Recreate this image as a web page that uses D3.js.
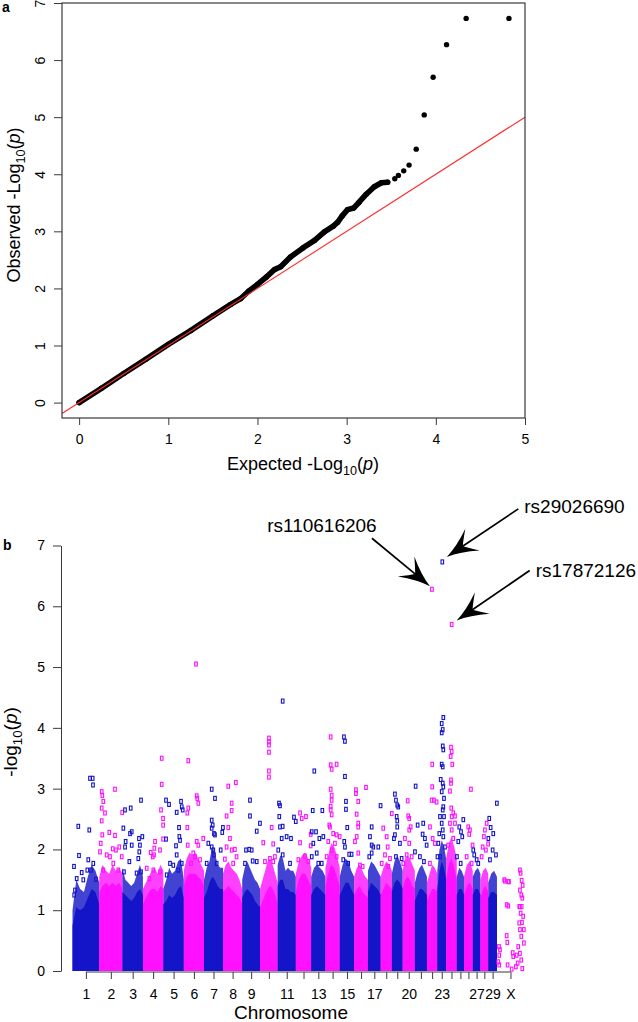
<!DOCTYPE html>
<html><head><meta charset="utf-8">
<script src="https://cdn.jsdelivr.net/npm/d3@7"></script>
<style>body{margin:0;background:#fff}svg{display:block}</style>
</head><body><svg id="c" width="638" height="1022"></svg>
<script>
// ---------- Panel a: QQ plot data ----------
const qqExpected = [0,0.25,0.5,0.75,1.0,1.25,1.5,1.7,1.81,1.9,2.0,2.1,2.19,2.26,2.37,2.51,2.64,2.75,2.85,2.90,2.95,3.01,3.08,3.14,3.22,3.31,3.39,3.46,3.54,3.58,3.64,3.70,3.78,3.87,3.97,4.12,4.34,4.82];
const qqObserved = [0,0.25,0.51,0.76,1.02,1.26,1.52,1.72,1.82,1.95,2.07,2.2,2.33,2.38,2.55,2.71,2.84,2.99,3.09,3.16,3.27,3.38,3.41,3.51,3.65,3.78,3.85,3.86,3.92,3.98,4.06,4.16,4.44,5.04,5.70,6.27,6.73,6.73];
const qqTicksX = [0,1,2,3,4,5];
const qqTicksY = [0,1,2,3,4,5,6,7];

// ---------- Panel b: Manhattan plot data ----------
const chromosomes = ["1","2","3","4","5","6","7","8","9","10","11","12","13","14","15","16","17","18","19","20","21","22","23","24","25","26","27","28","29","X"];
const chrLengthMb = [158.3,137.1,121.4,120.7,121.2,119.5,112.6,113.4,105.7,104.3,107.3,91.2,84.2,84.6,85.3,81.7,75.2,66.0,64.1,72.0,71.6,61.4,52.5,62.7,42.9,51.7,45.4,46.3,51.5,160];
const chrTickLabels = ["1","2","3","4","5","6","7","8","9","","11","","13","","15","","17","","","20","","","23","","","","27","","29","X"];
const manhattanTicksY = [0,1,2,3,4,5,6,7];
// level up to which the SNPs form a solid mass along each chromosome (-log10 p)
const chrBody = [
 [0.75,1.05,1.0,1.05,1.2,1.35,1.3,1.1],[1.3,1.4,1.45,1.4,1.45,1.4,1.45,1.35],[1.3,1.25,1.2,1.15,1.2,1.3,1.35,1.25],
 [1.1,1.2,1.3,1.35,1.35,1.3,1.4,1.35],[1.1,1.15,1.25,1.2,1.25,1.35,1.4,1.2],[1.4,1.55,1.6,1.6,1.6,1.55,1.5,1.4],
 [1.2,1.3,1.45,1.55,1.5,1.4,1.35,1.35],[1.3,1.35,1.4,1.35,1.3,1.25,1.2,1.1],[1.2,1.3,1.35,1.3,1.25,1.15,1.1,1.05],
 [1.05,1.15,1.25,1.35,1.4,1.35,1.25,1.1],[1.4,1.5,1.5,1.35,1.35,1.3,1.3,1.25],[1.3,1.5,1.6,1.6,1.5,1.4],
 [1.25,1.35,1.4,1.35,1.3,1.25],[1.4,1.6,1.75,1.7,1.55,1.4],[1.25,1.35,1.45,1.45,1.35,1.25],
 [1.25,1.35,1.4,1.3,1.25,1.2],[1.3,1.45,1.4,1.35,1.25],[1.25,1.35,1.45,1.4,1.35],
 [1.3,1.45,1.5,1.45,1.35],[1.35,1.5,1.55,1.5,1.4,1.35],[1.15,1.25,1.35,1.35,1.3,1.25],
 [1.15,1.25,1.35,1.35,1.3],[1.35,1.65,1.8,1.7,1.5],[1.5,1.75,1.85,1.7,1.5],
 [1.25,1.35,1.35,1.25],[1.25,1.4,1.45,1.35],[1.25,1.35,1.35,1.25],[1.2,1.35,1.4,1.3],[1.2,1.3,1.3,1.25],[]
];
// upper edge of the dense (not solid) cloud of SNPs above the body
const chrFringe = [
 [1.0,1.5,1.35,1.3,1.55,1.75,1.65,1.45],[1.55,1.75,1.65,1.6,1.75,1.65,1.7,1.6],[1.7,1.5,1.45,1.4,1.45,1.6,1.75,1.55],
 [1.35,1.45,1.55,1.65,1.7,1.6,1.75,1.65],[1.35,1.5,1.7,1.6,1.65,1.8,1.85,1.5],[1.65,1.85,1.95,1.9,1.95,1.85,1.75,1.65],
 [1.5,1.7,1.8,2.05,1.95,1.75,1.7,1.7],[1.6,1.75,1.8,1.7,1.65,1.6,1.5,1.35],[1.5,1.7,1.8,1.7,1.6,1.5,1.45,1.35],
 [1.35,1.5,1.65,1.8,1.85,1.75,1.6,1.45],[1.75,1.9,1.85,1.65,1.7,1.65,1.65,1.55],[1.6,1.8,1.9,1.95,1.85,1.7],
 [1.55,1.7,1.75,1.7,1.65,1.55],[1.7,1.9,2.1,2.05,1.9,1.7],[1.55,1.75,1.85,1.8,1.65,1.55],
 [1.55,1.7,1.75,1.65,1.55,1.5],[1.65,1.8,1.75,1.65,1.55],[1.55,1.7,1.8,1.75,1.65],
 [1.6,1.8,1.9,1.8,1.65],[1.65,1.85,1.9,1.85,1.75,1.65],[1.45,1.6,1.7,1.75,1.65,1.55],
 [1.45,1.6,1.75,1.7,1.6],[1.65,2.0,2.15,2.05,1.85],[1.85,2.1,2.2,2.05,1.85],
 [1.55,1.7,1.65,1.55],[1.55,1.75,1.8,1.65],[1.55,1.65,1.7,1.6],[1.5,1.65,1.7,1.6],[1.45,1.6,1.65,1.55],[]
];
// individual SNPs above the body: [chromosome, position (Mb), -log10 p]
const snpPoints = [
 ["1",8.9,1.72],["1",34.3,2.38],["1",38.5,1.9],["1",14.8,1.33],["1",10,1.25],["1",99.4,2.32],["1",103.6,3.17],["1",119.5,3.17],["1",121.3,3.06],["1",93.5,1.83],["1",123,1.77],["1",87.6,1.66],["1",54.4,1.62],["1",139,1.51],["1",109.5,1.66],["1",64,1.5],["1",24.9,1.52],
 ["2",14.5,2.95],["2",18,2.89],["2",24,2.79],["2",14.5,2.68],["2",34,2.6],["2",14.5,2.47],["2",18,2.24],["2",8.6,2.1],["2",4.4,1.96],["2",93.2,2.99],["2",59.5,2.28],["2",93.2,2.23],["2",79.6,2.01],["2",99,1.99],["2",118.6,2.04],["2",136,2.61],["2",44,1.91],["2",24,1.66],["2",63.6,1.88],["2",133,1.88],["2",83,1.77],["2",113,1.66],
 ["3",15.4,2.65],["3",49,2.68],["3",110,2.81],["3",5.5,2.35],["3",55,2.29],["3",45,2.26],["3",19,2.13],["3",98,2.18],["3",117.8,2.21],["3",55,2.07],["3",103.6,2.07],["3",15.4,2.04],["3",100,1.96],["3",94,1.85],["3",41,1.8],["3",110,1.63],["3",9,1.63],["3",84,1.61],
 ["4",111,3.5],["4",111,3.07],["4",107,2.65],["4",119,2.51],["4",119.5,2.4],["4",119.5,2.17],["4",71.6,2.13],["4",46,1.95],["4",65.7,1.91],["4",58,1.88],["4",67.5,2.02],["4",101,1.99],["4",22.5,1.69],["4",101,1.63],["4",61.5,1.66],["4",38,1.52],
 ["5",16,2.81],["5",33.7,2.74],["5",79,2.61],["5",104.7,2.79],["5",108.9,2.7],["5",114.8,2.65],["5",92.9,2.36],["5",94.7,2.21],["5",98.8,2.15],["5",16,2.17],["5",75,2.06],["5",79,1.91],["5",59,1.74],["5",39.6,1.77],["5",108.9,1.77],["5",20,1.58],["5",88.8,1.66],
 ["6",26.6,3.46],["6",20.7,2.6],["6",26.6,2.68],["6",76.3,2.88],["6",80,2.84],["6",86,2.76],["6",20.7,2.36],["6",23,2.07],["6",76.3,2.13],["6",86,2.07],["6",115.4,2.18],["6",56,1.94],["6",42.6,1.77],["6",95.9,1.83],["6",66.3,1.88],["6",72.2,5.05],
 ["7",45.6,2.99],["7",65,2.84],["7",45.6,2.48],["7",51.5,2.4],["7",45.6,2.35],["7",59,2.26],["7",65,2.24],["7",112,2.36],["7",108,2.28],["7",25.6,2.1],["7",45.6,2.04],["7",55,1.99],["7",59,1.91],["7",98.8,1.99],["7",16,1.77],["7",75,1.77],
 ["8",31,3.04],["8",76,3.1],["8",51,2.76],["8",21,2.55],["8",51,2.64],["8",31,2.36],["8",41,2.18],["8",21,2.04],["8",70,2.0],["8",51,1.99],["8",11,1.84],["8",60,1.77],["8",80,1.88],
 ["9",46,2.81],["9",46,2.55],["9",86,2.3],["9",105,2.43],["9",22.5,1.99],["9",42,2.0],["9",56,1.99],["9",62,1.81],["9",16.6,1.77],["9",86,1.8],
 ["10",52.7,3.83],["10",52.7,3.77],["10",52.7,3.72],["10",52.7,3.6],["10",52.7,3.29],["10",52.7,3.19],["10",68.6,2.36],["10",19,2.11],["10",78,2.09],["10",29,1.8],["10",58.6,1.85],["10",88,1.88],["10",78,1.8],
 ["11",29.6,4.44],["11",7.7,2.76],["11",13.6,2.72],["11",9.5,2.54],["11",13.6,2.37],["11",29.6,2.38],["11",23.7,2.18],["11",53,2.21],["11",78.7,2.18],["11",96.4,2.53],["11",107,2.46],["11",3.5,1.99],["11",29.6,1.91],["11",73,1.77],
 ["12",60,2.54],["12",35,2.51],["12",25,2.11],["12",54.4,1.89],["12",88,2.25],["12",88,2.06],["12",15,1.83],["12",74,1.8],["12",25,2.6],
 ["13",18.3,3.29],["13",8.9,2.64],["13",65.7,2.64],["13",3,2.29],["13",28.4,2.29],["13",48,2.18],["13",71.6,2.21],["13",12.4,2.1],["13",3,1.88],["13",32.5,1.94],["13",42,1.77],["13",62,1.77],
 ["14",30.8,3.85],["14",30.8,3.39],["14",36.7,3.32],["14",66,3.4],["14",30.8,2.99],["14",36.7,2.89],["14",36.7,2.81],["14",30.8,2.71],["14",30.8,2.65],["14",36.7,2.57],["14",22.7,2.4],["14",26.6,2.37],["14",46,2.26],["14",66,2.24],["14",84,2.21],["14",16.6,2.13],["14",56,2.1],["14",36.7,1.99],["14",7,1.88],["14",66,1.88],
 ["15",24.9,3.85],["15",30.8,3.78],["15",30.8,3.2],["15",36.7,2.79],["15",36.7,2.66],["15",44.4,2.36],["15",26.6,2.13],["15",30.8,2.04],["15",56,1.92],["15",70,1.92],["15",20.7,1.83],["15",50,1.77],
 ["16",10.6,2.98],["16",10.6,2.92],["16",24.3,2.79],["16",69.8,3.02],["16",14.8,2.58],["16",24.3,2.43],["16",24.3,2.37],["16",14.8,2.21],["16",4.7,2.13],["16",24.3,1.94],["16",34.3,1.74],["16",50,1.72],
 ["17",74.5,2.72],["17",21.9,2.37],["17",11.8,2.21],["17",21.9,2.07],["17",31.4,2.04],["17",21.9,1.94],["17",7.7,1.88],["17",61,2.04],
 ["18",15.4,2.35],["18",41.4,2.04],["18",25.4,1.91],["18",55,1.85],["18",5.9,1.77],["18",45,1.72],["18",35.5,2.21],["18",65.5,2.59],
 ["19",18.3,2.91],["19",24.3,2.81],["19",32,2.73],["19",37.9,2.7],["19",28.4,2.54],["19",32,2.47],["19",32,2.37],["19",18.3,2.24],["19",12.4,2.18],["19",47.9,2.1],["19",24.3,1.88],["19",58,1.85],
 ["20",29.6,2.8],["20",33,2.55],["20",39,2.51],["20",47.3,2.37],["20",39,2.32],["20",13.6,2.18],["20",39,2.1],["20",23.7,1.91],["20",53,1.88],["20",3.5,1.77],
 ["21",4.7,3.04],["21",16.6,2.4],["21",49.7,2.43],["21",46,2.25],["21",59.8,2.18],["21",69.8,2.07],["21",0.6,1.96],["21",30,1.88],["21",53.8,1.8],
 ["22",31.4,3.4],["22",31.4,3.03],["22",41.4,2.81],["22",57,2.78],["22",27.8,2.81],["22",17.8,2.37],["22",33.7,2.18],["22",47.3,2.1],["22",17.8,1.77],["22",29.6,6.28],
 ["23",35.5,4.17],["23",26,4.07],["23",32,3.97],["23",26,3.92],["23",32,3.7],["23",35.5,3.64],["23",26,3.4],["23",32,3.36],["23",20,3.15],["23",32,3.09],["23",35.5,3.03],["23",26,2.95],["23",39.6,2.84],["23",35.5,2.7],["23",32,2.65],["23",16,2.54],["23",39.6,2.54],["23",26,2.43],["23",32,2.32],["23",11.8,2.26],["23",35.5,2.21],["23",5.9,2.1],["23",45.6,2.04],["23",1,1.88],["23",16,1.88],["23",29.6,6.73],
 ["24",28.4,3.68],["24",32.5,3.61],["24",26.6,3.53],["24",36,3.4],["24",28.4,3.14],["24",28.4,3.09],["24",22.5,2.96],["24",30,2.68],["24",42,2.6],["24",32.5,2.54],["24",52,2.55],["24",22.5,2.43],["24",52,2.43],["24",32.5,2.32],["24",42,2.18],["24",12.4,2.07],["24",32.5,5.70],
 ["25",38.5,2.49],["25",14.8,2.37],["25",24.9,2.29],["25",32.5,2.21],["25",8.9,2.13],["25",1,1.88],["25",23,1.77],
 ["26",40.8,2.99],["26",24.9,2.37],["26",34.9,2.32],["26",30.8,2.25],["26",50.5,2.07],["26",15.4,1.88],["26",45,1.77],
 ["27",3,1.99],["27",8.9,1.91],["27",23,1.83],["27",32.5,1.77],
 ["28",36.7,2.43],["28",26.6,2.32],["28",20.7,2.21],["28",13,2.04],["28",32.5,1.99],["28",45.5,2.09],["28",7,1.88],
 ["29",51,2.76],["29",5.9,2.51],["29",14,2.36],["29",29.6,2.26],["29",0.5,2.18],["29",26,1.99],["29",45.6,1.91],["29",10,1.83],
 ["X",13.6,0.26],["X",13.6,0.10],["X",47.3,1.48],["X",71,1.47],["X",57.4,1.09],["X",61,0.47],["X",96.4,0.24],["X",112,0.07],["X",132,1.06],["X",136,1.06],["X",146,1.06],["X",136,1.66],["X",140,1.61],["X",136,1.33],["X",144,1.25],["X",146,1.49],["X",152,1.41],["X",132,0.79],["X",136,0.68],["X",144,0.57],["X",126,0.40],["X",136,0.29],["X",144,0.18],["X",150,0.04],["X",155,0.90],["X",159,0.68],["X",159.5,0.46],["X",116.5,0.26],["X",122.5,0.13],["X",87,0.03],["X",93,0.3],["X",57.4,0.58],["X",43,1.5],["X",67,1.47],["X",67,1.07],["X",12,0.4],["X",17.8,0.35],["X",7.7,0.15],["X",63,0.1],["X",150,1.2],["X",140,0.95],["X",148,0.8]
];
// annotated SNPs
const hitLabels = ["rs110616206","rs29026690","rs17872126"];
const hitChr = ["22","23","24"];
const hitPos = [29.6,29.6,32.5];
const hitLogP = [6.28,6.73,5.70];

// ---------- drawing ----------
const FONT = '"Liberation Sans", Arial, Helvetica, sans-serif';
const AX = "#3a3a3a";
const BLUE = "#1414c8", MAG = "#ff10ff";
const svg = d3.select("#c").attr("font-family", FONT);
const intFmt = d3.format("d");

function styleAxis(g, size){
  g.selectAll(".tick line").attr("stroke", AX).attr("stroke-width",1);
  g.selectAll(".tick text").attr("fill","#000").attr("font-size", size).attr("font-family", FONT);
  g.attr("font-family", FONT);
}
function logLabel(t, prefix, fs){
  t.attr("font-size", fs);
  t.append("tspan").text(prefix);
  t.append("tspan").attr("font-size", fs*0.7).attr("dy", fs*0.28).text("10");
  t.append("tspan").attr("dy", -fs*0.28).text("(");
  t.append("tspan").attr("font-style","italic").text("p");
  t.append("tspan").text(")");
}

// Panel a
const qx = d3.scaleLinear().domain([-0.192, 5.0]).range([62, 525]);
const qy = d3.scaleLinear().domain([-0.27, 7.0]).range([418, 3]);
const ga = svg.append("g");
const idx = d3.range(qqExpected.length);
ga.append("path").datum(idx.filter(i => qqExpected[i] <= 3.46))
  .attr("d", d3.line().x(i => qx(qqExpected[i])).y(i => qy(qqObserved[i])))
  .attr("fill","none").attr("stroke","#000").attr("stroke-width",5.6)
  .attr("stroke-linecap","round").attr("stroke-linejoin","round");
ga.selectAll("circle.qq").data(idx).join("circle").attr("class","qq")
  .attr("cx", i => qx(qqExpected[i])).attr("cy", i => qy(qqObserved[i]))
  .attr("r", 2.7).attr("fill","#000");
const xd = qx.domain();
ga.append("line").attr("x1", qx(xd[0])).attr("y1", qy(xd[0])).attr("x2", qx(xd[1])).attr("y2", qy(xd[1]))
  .attr("stroke","#ff2a2a").attr("stroke-width",1.1);
ga.append("rect").attr("x",62).attr("y",3).attr("width",463).attr("height",415)
  .attr("fill","none").attr("stroke",AX).attr("stroke-width",1.2);
ga.append("g").attr("transform","translate(0,418)")
  .call(d3.axisBottom(qx).tickValues(qqTicksX).tickFormat(intFmt).tickSize(7).tickPadding(9).tickSizeOuter(0))
  .call(g => { g.select(".domain").remove(); styleAxis(g, 14); });
ga.append("g").attr("transform","translate(62,0)")
  .call(d3.axisLeft(qy).tickValues(qqTicksY).tickFormat(intFmt).tickSize(8).tickSizeOuter(0))
  .call(g => { g.select(".domain").remove(); styleAxis(g, 14);
    g.selectAll(".tick text").attr("x", null).attr("dy", null)
     .attr("text-anchor","middle").attr("transform","translate(-17,0) rotate(-90)"); });
logLabel(ga.append("text").attr("x",303).attr("y",470).attr("text-anchor","middle"), "Expected -Log", 18);
logLabel(ga.append("text").attr("transform","translate(20,205) rotate(-90)").attr("text-anchor","middle"), "Observed -Log", 18);
ga.append("text").attr("x",2).attr("y",12).attr("font-size",14).attr("font-weight","bold").text("a");

// Panel b
const totalMb = d3.sum(chrLengthMb);
const chrStart = chrLengthMb.map((d,i) => d3.sum(chrLengthMb.slice(0,i)));
const chrCenter = chrLengthMb.map((d,i) => chrStart[i] + d/2);
const mx = d3.scaleLinear().domain([0, totalMb]).range([72.5, 524]);
const my = d3.scaleLinear().domain([0, 7]).range([971, 545.5]);
const colorOf = i => (i % 2 === 0 ? BLUE : MAG);
const gb = svg.append("g");
const area = d3.area().x(d => mx(d[0])).y0(my(0)).y1(d => my(d[1]));
function profile(h, i){ return h.map((v, j) => [chrStart[i] + j/(h.length-1)*chrLengthMb[i], v]); }
chrFringe.forEach((h, i) => {
  if (!h.length) return;
  gb.append("path").datum(profile(h, i)).attr("d", area).attr("fill", colorOf(i)).attr("fill-opacity", 0.8);
});
chrBody.forEach((h, i) => {
  if (!h.length) return;
  gb.append("path").datum(profile(h, i)).attr("d", area).attr("fill", colorOf(i));
});
gb.selectAll("rect.snp").data(snpPoints).join("rect").attr("class","snp")
  .each(function(d){
    const i = chromosomes.indexOf(String(d[0]));
    d3.select(this).attr("x", mx(chrStart[i] + d[1]) - 1.3).attr("y", my(d[2]) - 2)
      .attr("stroke", colorOf(i));
  })
  .attr("width",2.6).attr("height",4).attr("fill","none").attr("stroke-width",1.1);

// axes
gb.append("g").attr("transform","translate(61,0)")
  .call(d3.axisLeft(my).tickValues(manhattanTicksY).tickFormat(intFmt).tickSize(8).tickPadding(8).tickSizeOuter(0))
  .call(g => { g.select(".domain").attr("stroke",AX); styleAxis(g, 14); });
gb.append("g").attr("transform","translate(0,972)")
  .call(d3.axisBottom(mx).tickValues(chrCenter).tickFormat((d,i) => chrTickLabels[i]).tickSize(7).tickPadding(10))
  .call(g => { g.select(".domain").remove(); styleAxis(g, 14); });
gb.append("line").attr("x1", mx(chrCenter[0])).attr("x2", mx(chrCenter[chrCenter.length-1]))
  .attr("y1",972).attr("y2",972).attr("stroke",AX);
gb.append("text").attr("x",291).attr("y",1019).attr("text-anchor","middle").attr("font-size",19).text("Chromosome");
logLabel(gb.append("text").attr("transform","translate(17,742) rotate(-90)").attr("text-anchor","middle"), "-log", 19);
gb.append("text").attr("x",3).attr("y",550).attr("font-size",14).attr("font-weight","bold").text("b");

// annotations (label/arrow offsets relative to the SNP, in px)
const annLayout = [
  {tx:-110, ty:-57, anchor:"middle", sx:-60, sy:-51, ex:-2, ey:-3},
  {tx:82, ty:-49, anchor:"start", sx:76, sy:-53, ex:4.5, ey:-5},
  {tx:84, ty:-48, anchor:"start", sx:78, sy:-54, ex:5, ey:-4}
];
hitLabels.forEach((lab, k) => {
  const i = chromosomes.indexOf(hitChr[k]);
  const px = mx(chrStart[i] + hitPos[k]), py = my(hitLogP[k]);
  const L = annLayout[k];
  gb.append("text").attr("x", px + L.tx).attr("y", py + L.ty).attr("text-anchor", L.anchor)
    .attr("font-size", 19).text(lab);
  const sx = px + L.sx, sy = py + L.sy, ex = px + L.ex, ey = py + L.ey;
  const ang = Math.atan2(ey - sy, ex - sx);
  const len = 31, w = 13;
  gb.append("line").attr("x1", sx).attr("y1", sy)
    .attr("x2", ex - Math.cos(ang)*len*0.6).attr("y2", ey - Math.sin(ang)*len*0.6)
    .attr("stroke","#000").attr("stroke-width",1.7);
  gb.append("path")
    .attr("d", `M0,0 Q${-len*0.45},${-3} ${-len},${-w} Q${-len*0.72},${-4} ${-len*0.62},0 Q${-len*0.72},${4} ${-len},${w} Q${-len*0.45},${3} 0,0Z`)
    .attr("transform", `translate(${ex},${ey}) rotate(${ang*180/Math.PI})`).attr("fill","#000");
});
</script></body></html>
